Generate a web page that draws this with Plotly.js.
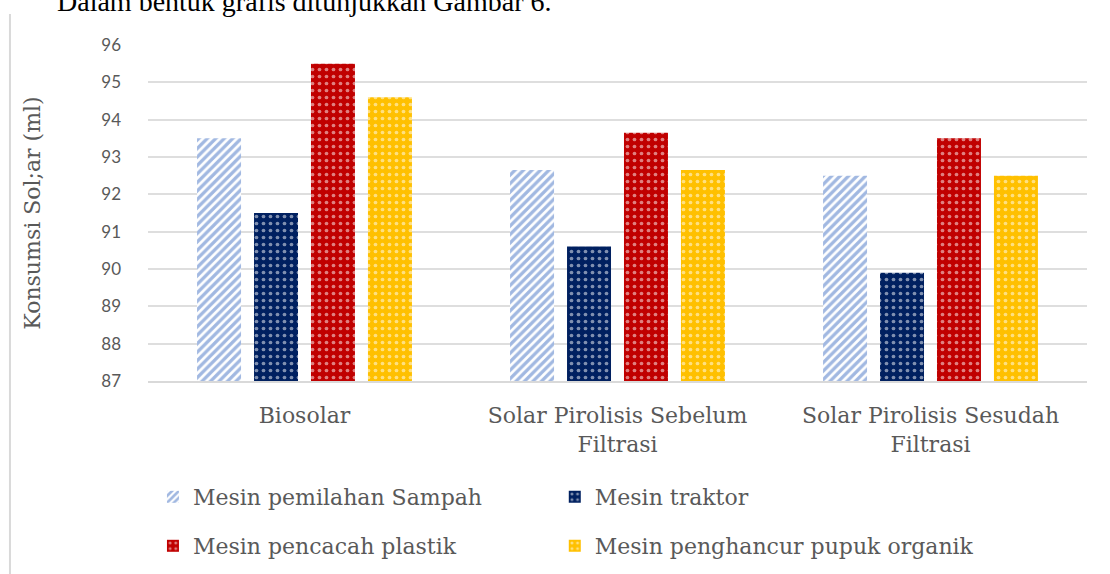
<!DOCTYPE html>
<html>
<head>
<meta charset="utf-8">
<script src="https://cdn.plot.ly/plotly-3.0.1.min.js"></script>
<style>
  html, body { margin: 0; padding: 0; background: #ffffff; }
  #chart { width: 1110px; height: 574px; }
</style>
</head>
<body>
<div id="chart"></div>
<script>
const categories = [
  "Biosolar",
  "Solar Pirolisis Sebelum<br>Filtrasi",
  "Solar Pirolisis Sesudah<br>Filtrasi"
];
const seriesNames = [
  "Mesin pemilahan Sampah",
  "Mesin traktor",
  "Mesin pencacah plastik",
  "Mesin penghancur pupuk organik"
];
const pemilahanSampah = [93.5, 92.65, 92.5];
const traktor = [91.5, 90.6, 89.9];
const pencacahPlastik = [95.5, 93.65, 93.5];
const penghancurPupuk = [94.6, 92.65, 92.5];
const yTicks = [87, 88, 89, 90, 91, 92, 93, 94, 95, 96];
const yTitle = "Konsumsi Sol;ar (ml)";
const introText = "Dalam bentuk grafis ditunjukkan Gambar 6.";

const serif = "DejaVu Serif";
const sans = "Lato";
const textGray = "#595959";

function dotted(color) {
  return {
    color: color,
    line: { width: 0 },
    pattern: { shape: ".", fgcolor: "#ffffff", bgcolor: color, size: 7, solidity: 0.22, fillmode: "overlay" }
  };
}

const traces = [
  {
    type: "bar", name: seriesNames[0], x: categories, y: pemilahanSampah, legend: "legend",
    marker: { color: "#ffffff", line: { width: 0 },
      pattern: { shape: "/", fgcolor: "#4472c4", bgcolor: "#ffffff", size: 6, solidity: 0.55, fillmode: "overlay" } }
  },
  { type: "bar", name: seriesNames[1], x: categories, y: traktor, legend: "legend2", marker: dotted("#002060") },
  { type: "bar", name: seriesNames[2], x: categories, y: pencacahPlastik, legend: "legend3", marker: dotted("#c00000") },
  { type: "bar", name: seriesNames[3], x: categories, y: penghancurPupuk, legend: "legend4", marker: dotted("#ffc000") }
];

const legendCommon = {
  orientation: "h",
  xref: "container",
  yref: "container",
  xanchor: "left",
  yanchor: "middle",
  font: { family: serif, size: 22, color: textGray },
  bgcolor: "rgba(0,0,0,0)",
  itemclick: false
};
const col1 = 0.1378, col2 = 0.4998, row1 = 0.1341, row2 = 0.0488;

const layout = {
  width: 1110,
  height: 574,
  margin: { l: 148, r: 23, t: 45, b: 193 },
  font: { family: serif, color: textGray },
  paper_bgcolor: "#ffffff",
  plot_bgcolor: "#ffffff",
  barmode: "group",
  bargap: 0.272,
  bargroupgap: 0.228,
  showlegend: true,
  xaxis: {
    showline: true, linecolor: "#d9d9d9", linewidth: 2,
    showgrid: false, ticks: "",
    ticklabelstandoff: 14,
    tickfont: { family: serif, size: 22, color: textGray },
    automargin: false,
    fixedrange: true
  },
  yaxis: {
    range: [87, 96],
    tickvals: yTicks,
    ticktext: yTicks.map(String),
    showgrid: true, gridcolor: "#dedede", gridwidth: 2,
    zeroline: false, showline: false, ticks: "",
    ticklabelstandoff: 26,
    tickfont: { family: sans, size: 17, color: textGray },
    title: { text: yTitle, font: { family: serif, size: 22, color: textGray }, standoff: 54 },
    automargin: false,
    fixedrange: true
  },
  legend: Object.assign({}, legendCommon, { x: col1, y: row1 }),
  legend2: Object.assign({}, legendCommon, { x: col2, y: row1 }),
  legend3: Object.assign({}, legendCommon, { x: col1, y: row2 }),
  legend4: Object.assign({}, legendCommon, { x: col2, y: row2 }),
  annotations: [
    {
      text: introText, showarrow: false,
      xref: "paper", yref: "paper", x: -0.099, y: 1.1815,
      xanchor: "left", yanchor: "top",
      font: { family: "serif", size: 28, color: "#000000" }
    }
  ],
  shapes: [
    {
      type: "line", xref: "paper", yref: "paper",
      x0: -0.147, x1: -0.147, y0: -0.6, y1: 1.092,
      line: { color: "#d9d9d9", width: 2 }
    }
  ]
};

Plotly.newPlot("chart", traces, layout, { displayModeBar: false, staticPlot: true });
</script>
</body>
</html>
